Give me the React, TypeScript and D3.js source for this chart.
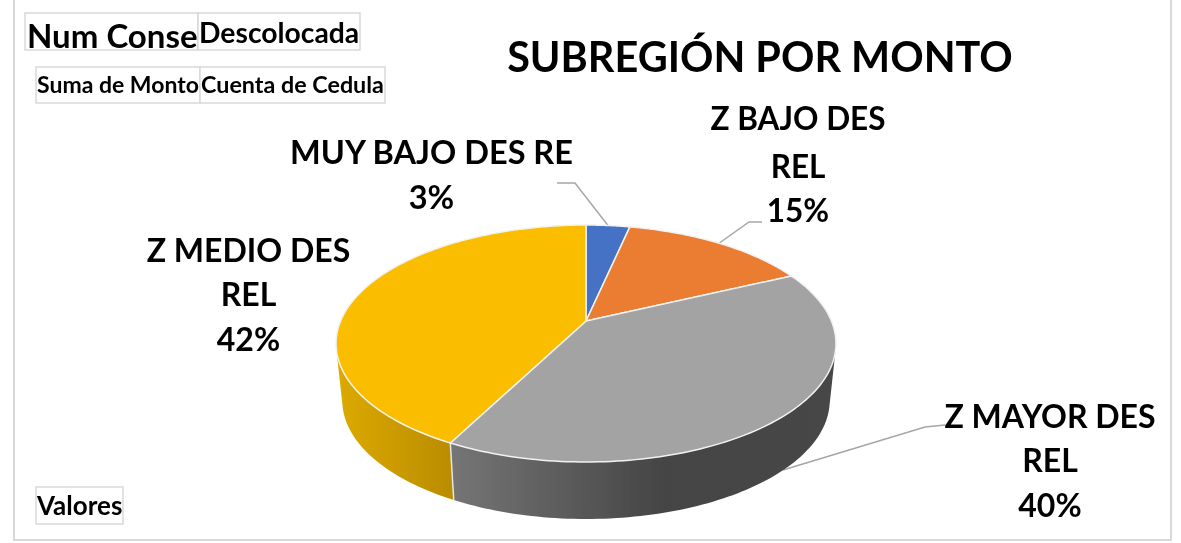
import React from "react";
import * as d3 from "d3";

const categories = ["MUY BAJO DES RE", "Z BAJO DES REL", "Z MAYOR DES REL", "Z MEDIO DES REL"];
const values = [3.4, 14.6, 39.6, 42.4];
const percentLabels = ["3%", "15%", "40%", "42%"];
const topColors = ["#4472c4", "#eb7d32", "#a3a3a3", "#fbbd00"];
const chartTitle = "SUBREGIÓN POR MONTO";
const fieldButtons = ["Num Conse", "Descolocada", "Suma de Monto", "Cuenta de Cedula", "Valores"];

const W = 1181, H = 543;
const FONT = "Lato, Carlito, Calibri, sans-serif";
const cx = 586, cy = 321, a = 245.4, b = 114.2, k = -0.19;
const depth = 57, bottomScale = 0.975;

function project(theta: number, drop = 0, scale = 1): [number, number] {
  const u = Math.sin(theta), v = -Math.cos(theta);
  const w = 1 + k * v;
  return [cx + (scale * a * u) / w, cy + (b * v) / w + drop];
}
const arcPts = (s: number, e: number, drop = 0, scale = 1) =>
  d3.range(0, 121).map((i) => project(s + ((e - s) * i) / 120, drop, scale));

const line = d3.line();
const pieGen = d3.pie<number>().sort(null).startAngle(0).endAngle(2 * Math.PI);
const slices = pieGen(values);

// Wall of a slice: one outward-oriented quad per arc step, so the silhouette
// follows the straight tangent between the top and bottom rims.
function wallPath(s: number, e: number): string {
  const top = arcPts(s, e);
  const bot = arcPts(s, e, depth, bottomScale);
  return d3.range(0, top.length - 1).map((i) => {
    const q: [number, number][] = [top[i], top[i + 1], bot[i + 1], bot[i]];
    if (d3.polygonArea(q) < 0) q.reverse();
    return line(q)! + "Z";
  }).join("");
}

const fieldBoxes = [
  { x: 25, y: 13, w: 173, h: 37, size: 33, tx: 27, ty: 48 },
  { x: 198, y: 13, w: 162, h: 37, size: 28.3, tx: 199, ty: 43 },
  { x: 36, y: 67, w: 164, h: 36, size: 23, tx: 37, ty: 93 },
  { x: 200, y: 67, w: 185, h: 36, size: 23.3, tx: 201, ty: 93 },
  { x: 36, y: 487, w: 87, h: 37, size: 26, tx: 37, ty: 515 },
];

const labelLayout = [
  { x: 431.5, size: 32.5, ys: [164], pctY: 209, lines: ["MUY BAJO DES RE"] },
  { x: 798, size: 31.5, ys: [130, 178], pctY: 222, lines: ["Z BAJO DES", "REL"] },
  { x: 1050, size: 32, ys: [428, 472], pctY: 517, lines: ["Z MAYOR DES", "REL"] },
  { x: 248.5, size: 32, ys: [262, 306], pctY: 351, lines: ["Z MEDIO DES", "REL"] },
];

const leaders: [number, number][][] = [
  [[557, 183], [575, 183], project((slices[0].startAngle + slices[0].endAngle) / 2)],
  [[762, 222], [749, 222], [718, 244]],
  [[945, 425], [925, 427], [783, 470]],
];

export default function App() {
  return (
    <svg width={W} height={H} style={{ position: "absolute", left: 0, top: 0, background: "#fff" }} fontFamily={FONT}>
      <defs>
        <linearGradient id="sideGold" gradientUnits="userSpaceOnUse" x1={336} x2={455} y1={0} y2={0}>
          <stop offset="0" stopColor="#dcaa00" />
          <stop offset="1" stopColor="#b98c00" />
        </linearGradient>
        <linearGradient id="sideGray" gradientUnits="userSpaceOnUse" x1={452} x2={836} y1={0} y2={0}>
          <stop offset="0" stopColor="#757575" />
          <stop offset="0.55" stopColor="#454545" />
          <stop offset="1" stopColor="#464646" />
        </linearGradient>
        <filter id="soft" x="-2%" y="-2%" width="104%" height="104%">
          <feGaussianBlur stdDeviation="0.45" />
        </filter>
      </defs>

      <g filter="url(#soft)">
        <path d="M14,0V540H1171V0" fill="none" stroke="#d9d9d9" strokeWidth={2} />

        {fieldBoxes.map((f, i) => (
          <g key={i}>
            <rect x={f.x} y={f.y} width={f.w} height={f.h} fill="#fff" stroke="#d9d9d9" strokeWidth={1.5} />
            <text x={f.tx} y={f.ty} fontSize={f.size} fontWeight={700} fill="#000">{fieldButtons[i]}</text>
          </g>
        ))}

        <text x={760} y={72} textAnchor="middle" fontSize={41.4} fontWeight={700} fill="#000">{chartTitle}</text>

        {leaders.map((l, i) => (
          <path key={i} d={line(l)!} fill="none" stroke="#a6a6a6" strokeWidth={1.5} />
        ))}

        {[3, 2].map((i) => (
          <path key={i} d={wallPath(slices[i].startAngle, slices[i].endAngle)} fill={i === 3 ? "url(#sideGold)" : "url(#sideGray)"} />
        ))}
        {(() => {
          const p0 = project(slices[3].startAngle);
          const p1 = project(slices[3].startAngle, depth, bottomScale);
          return <line x1={p0[0]} y1={p0[1]} x2={p1[0]} y2={p1[1]} stroke="#e6e6e6" strokeWidth={1.5} />;
        })()}

        {slices.map((s, i) => (
          <path
            key={i}
            d={line([[cx, cy], ...arcPts(s.startAngle, s.endAngle)])! + "Z"}
            fill={topColors[i]}
            stroke="#f2f2f2"
            strokeWidth={1.5}
            strokeLinejoin="round"
          />
        ))}

        {categories.map((c, i) => {
          const L = labelLayout[i];
          return (
            <g key={c} textAnchor="middle" fontSize={L.size} fontWeight={700} fill="#000">
              {L.lines.map((t, j) => (
                <text key={j} x={L.x} y={L.ys[j]}>{t}</text>
              ))}
              <text x={L.x} y={L.pctY}>{percentLabels[i]}</text>
            </g>
          );
        })}
      </g>
    </svg>
  );
}
